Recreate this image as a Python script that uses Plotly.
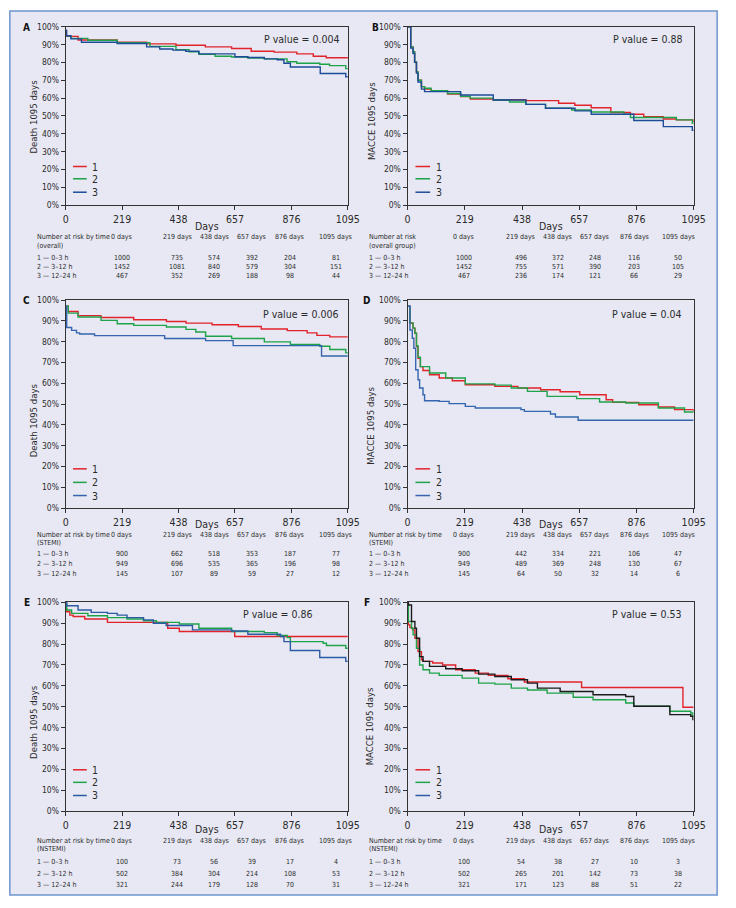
import subprocess
import plotly.graph_objects as go

W, H = 736, 908

# ---------------- data ----------------
tick_days = [0, 219, 438, 657, 876, 1095]
pct_ticks = list(range(0, 101, 10))
groups = ["1", "2", "3"]
row_labels = ["1 \u2014 0\u20133 h", "2 \u2014 3\u201312 h", "3 \u2014 12\u201324 h"]
col_headers = ["0 days", "219 days", "438 days", "657 days", "876 days", "1095 days"]

# Panel A  (Death, overall)
A1_d = [0, 3, 48, 200, 314, 428, 542, 644, 720, 809, 897, 961, 1011, 1095]
A1_s = [98, 94.6, 92.6, 91.3, 90.4, 89.6, 88.7, 87.8, 86.3, 85.8, 84.8, 83.5, 82.6, 82.3]
A2_d = [0, 3, 20, 86, 200, 327, 428, 479, 517, 580, 644, 707, 771, 859, 897, 986, 1024, 1087, 1095]
A2_s = [98, 95, 93.5, 92.4, 91, 89, 87.2, 86, 84.5, 83.5, 83, 82.5, 82, 80.4, 79.5, 79, 78.2, 76.5, 76.5]
A3_d = [0, 3, 20, 61, 200, 314, 365, 416, 466, 517, 657, 707, 771, 821, 847, 872, 988, 1087, 1095]
A3_s = [98, 95, 93.2, 91.3, 90.6, 88.7, 87.5, 86.9, 86.3, 84.8, 83.2, 82.8, 82, 81.5, 79.5, 77.4, 73.8, 72, 72]

# Panel B  (MACCE, overall)
B1_d = [0, 12, 21, 27, 34, 40, 53, 65, 90, 153, 203, 240, 328, 453, 578, 640, 703, 778, 853, 904, 979, 1029, 1095]
B1_s = [100, 88.7, 86, 80.3, 74.7, 70, 66.4, 65, 63.8, 62.3, 60.8, 59.5, 59.1, 58.6, 57.1, 56, 54.6, 51.9, 50.9, 49.6, 48.3, 47.8, 46.5]
B2_d = [0, 12, 21, 27, 34, 40, 53, 65, 90, 153, 203, 240, 328, 390, 453, 528, 628, 703, 828, 853, 1029, 1090, 1095]
B2_s = [100, 88.7, 86, 80.3, 74.7, 70, 66.4, 65.5, 64.2, 62.6, 61, 60, 58.9, 57.8, 56.5, 54.3, 53.3, 52.2, 50.9, 49.1, 47.8, 45.9, 45.9]
B3_d = [0, 12, 21, 27, 34, 40, 53, 65, 203, 328, 453, 528, 641, 703, 866, 979, 1090, 1095]
B3_s = [100, 88, 85, 80, 74, 69, 65, 63.6, 61.7, 58.9, 56.5, 54.3, 52.8, 50.9, 47.4, 44, 42, 42]

# Panel C  (Death, STEMI)
C1_d = [0, 10, 48, 137, 264, 391, 467, 568, 670, 759, 860, 937, 975, 1025, 1095]
C1_s = [97, 94.5, 92.5, 91.6, 90.5, 89.7, 88.9, 88.1, 87.3, 86.1, 85.3, 84.2, 83, 82.3, 82.3]
C2_d = [0, 10, 48, 137, 200, 264, 391, 467, 505, 543, 644, 771, 872, 986, 1025, 1087, 1095]
C2_s = [97, 93.7, 91.8, 90.2, 88.6, 87.8, 87, 85.9, 84.6, 82.6, 81.5, 79.9, 78.6, 77.8, 76.2, 74.6, 74.6]
C3_d = [0, 4, 23, 42, 54, 112, 384, 543, 650, 993, 1095]
C3_s = [97, 86.8, 85.4, 84.2, 83.7, 82.9, 81.5, 80.5, 78.1, 73.1, 73.1]

# Panel D  (MACCE, STEMI)
D1_d = [0, 9, 21, 28, 34, 40, 49, 59, 84, 121, 171, 221, 334, 422, 509, 584, 659, 760, 785, 885, 960, 1022, 1095]
D1_s = [97, 88.8, 86.4, 84, 77.6, 72, 68, 66.1, 64.1, 62.5, 61.2, 59.3, 58.5, 57.7, 56.9, 55.9, 54.5, 52.1, 50.8, 49.7, 48.6, 47.3, 46.5]
D2_d = [0, 9, 21, 28, 34, 40, 49, 84, 146, 221, 334, 397, 459, 534, 647, 735, 835, 960, 1060, 1095]
D2_s = [97, 89, 86.5, 84, 78, 72.5, 68, 64.9, 62.5, 59.7, 59.1, 57.7, 56.1, 53.7, 52.6, 51, 50.5, 48.1, 46.2, 46]
D3_d = [0, 9, 18, 24, 31, 40, 46, 59, 65, 121, 159, 221, 259, 434, 447, 547, 566, 653, 1095]
D3_s = [97, 85.6, 81.6, 76.8, 66.5, 61.7, 57.7, 54.5, 51.6, 51.3, 50.2, 48.9, 48.1, 47.3, 46.5, 45.2, 43.8, 42.2, 42.2]

# Panel E  (Death, NSTEMI)
E1_d = [0, 1, 4, 16, 29, 74, 162, 396, 441, 656, 1095]
E1_s = [100, 97, 95.5, 93.9, 93.2, 92, 90.4, 87.6, 86, 83.6, 83.6]
E2_d = [0, 4, 23, 86, 162, 238, 302, 352, 441, 517, 644, 771, 821, 860, 872, 999, 1012, 1087, 1095]
E2_s = [100, 96.3, 94.7, 93.6, 92.7, 92, 91.2, 90.4, 89.6, 87.6, 86, 85.5, 84.1, 83.1, 81.2, 80.4, 79.3, 78, 78]
E3_d = [0, 4, 48, 99, 162, 200, 238, 302, 340, 390, 492, 644, 707, 834, 847, 872, 986, 1087, 1095]
E3_s = [100, 98.4, 96.3, 95.2, 94.7, 93.9, 92.7, 91.6, 90, 88.9, 86.8, 86.3, 84.7, 83.6, 81.2, 76.9, 73.6, 71.7, 71.7]

# Panel F  (MACCE, NSTEMI)
F1_d = [0, 3, 9, 19, 28, 40, 53, 59, 96, 134, 184, 259, 309, 384, 447, 666, 1054, 1095]
F1_s = [100, 89.2, 87.9, 86.8, 82.8, 76.4, 72.5, 71.7, 70.9, 70, 67.7, 66.1, 65, 63.4, 61.8, 59.2, 49.7, 49.7]
F2_d = [0, 3, 15, 21, 34, 46, 59, 84, 121, 209, 272, 334, 397, 459, 534, 634, 710, 835, 866, 1004, 1084, 1092, 1095]
F2_s = [100, 90.8, 87.6, 84.4, 78, 70, 67.7, 66.1, 65, 63.7, 61.3, 60.8, 58.9, 58, 56.5, 54.5, 53.3, 51.8, 50.2, 47.8, 47, 45.4, 45.4]
F3_d = [0, 3, 15, 28, 34, 46, 59, 84, 146, 209, 272, 334, 397, 459, 497, 584, 710, 835, 866, 1004, 1084, 1092, 1095]
F3_s = [100, 98.7, 90.8, 87.6, 82.8, 74, 71.7, 69.3, 68.2, 67.2, 65.6, 64.5, 62.9, 61.3, 58.9, 57.3, 55.7, 54.9, 50.2, 46.2, 45.4, 43.8, 43.8]

p_values = {"A": "P value = 0.004", "B": "P value = 0.88", "C": "P value = 0.006",
            "D": "P value = 0.04", "E": "P value = 0.86", "F": "P value = 0.53"}
y_titles = {"A": "Death 1095 days", "B": "MACCE 1095 days", "C": "Death 1095 days",
            "D": "MACCE 1095 days", "E": "Death 1095 days", "F": "MACCE 1095 days"}
risk_heads = {"A": ("Number at risk by time", "(overall)"), "B": ("Number at risk", "(overall group)"),
              "C": ("Number at risk by time", "(STEMI)"), "D": ("Number at risk by time", "(STEMI)"),
              "E": ("Number at risk by time", "(NSTEMI)"), "F": ("Number at risk by time", "(NSTEMI)")}
risk_A = [[1000, 735, 574, 392, 204, 81], [1452, 1081, 840, 579, 304, 151], [467, 352, 269, 188, 98, 44]]
risk_B = [[1000, 496, 372, 248, 116, 50], [1452, 755, 571, 390, 203, 105], [467, 236, 174, 121, 66, 29]]
risk_C = [[900, 662, 518, 353, 187, 77], [949, 696, 535, 365, 196, 98], [145, 107, 89, 59, 27, 12]]
risk_D = [[900, 442, 334, 221, 106, 47], [949, 489, 369, 248, 130, 67], [145, 64, 50, 32, 14, 6]]
risk_E = [[100, 73, 56, 39, 17, 4], [502, 384, 304, 214, 108, 53], [321, 244, 179, 128, 70, 31]]
risk_F = [[100, 54, 38, 27, 10, 3], [502, 265, 201, 142, 73, 38], [321, 171, 123, 88, 51, 22]]

curves = {
    "A": [(A1_d, A1_s), (A2_d, A2_s), (A3_d, A3_s)],
    "B": [(B1_d, B1_s), (B2_d, B2_s), (B3_d, B3_s)],
    "C": [(C1_d, C1_s), (C2_d, C2_s), (C3_d, C3_s)],
    "D": [(D1_d, D1_s), (D2_d, D2_s), (D3_d, D3_s)],
    "E": [(E1_d, E1_s), (E2_d, E2_s), (E3_d, E3_s)],
    "F": [(F1_d, F1_s), (F2_d, F2_s), (F3_d, F3_s)],
}
risks = {"A": risk_A, "B": risk_B, "C": risk_C, "D": risk_D, "E": risk_E, "F": risk_F}

# ---------------- font choice (condensed if available) ----------------
try:
    fams = subprocess.run(["fc-list", ":", "family"], capture_output=True, text=True, timeout=10).stdout
except Exception:
    fams = ""
if "Liberation Sans Narrow" in fams:
    FONT = "Liberation Sans Narrow"
    SZ = dict(ytick=9.5, xtick=11.5, pval=12, days=12, ytitle=11, table=8.2, legend=11.5, letter=11)
elif "DejaVu Sans Condensed" in fams:
    FONT = "DejaVu Sans Condensed"
    SZ = dict(ytick=8.5, xtick=10.5, pval=10.5, days=10.5, ytitle=9.5, table=7, legend=10.5, letter=10)
else:
    FONT = "Liberation Sans, Arial, sans-serif"
    SZ = dict(ytick=9, xtick=10.5, pval=10.5, days=10.5, ytitle=9.5, table=7, legend=10.5, letter=10.5)

# ---------------- styling / layout ----------------
TXT = "#2b2b2b"
RED, GREEN = "#E3232B", "#1FA34A"
blue_of = {"A": "#1C4C98", "B": "#1C4C98", "C": "#3465AE", "D": "#3465AE", "E": "#2C5BA6", "F": "#2C5BA6"}
curve3_color = {"F": "#1a1a1a"}

def px(x):
    return x / W

def py(y):
    return 1 - y / H

col_x = {"L": (64, 352), "R": (413, 705)}
row_y = {0: (22, 202.3), 1: (298.3, 508.7), 2: (604, 815)}
panel_pos = {"A": ("L", 0), "B": ("R", 0), "C": ("L", 1), "D": ("R", 1), "E": ("L", 2), "F": ("R", 2)}

letter_xy = {"A": (24, 23), "B": (380, 23), "C": (24, 299), "D": (371, 299), "E": (24, 604), "F": (372, 604)}
ytitle_xy = {"A": (31.5, 113), "B": (376, 117), "C": (30.5, 420), "D": (375, 425), "E": (30.5, 725), "F": (375, 729)}
pval_xy = {"A": (305, 34), "B": (658, 34), "C": (304, 312), "D": (657, 312), "E": (280, 616), "F": (657, 616)}
days_y = {0: 223, 1: 525, 2: 833}
legend_ys = {0: [163.3, 175.7, 189.3], 1: [469, 482.7, 496], 2: [773.3, 786, 799.3]}
legend_x = {"L": (71.5, 85.5, 89), "R": (421, 436, 440)}
table_rows = {0: (234.8, 243.2, [256, 265, 273.7]),
              1: (536, 544, [555.5, 565.5, 575.5]),
              2: (845, 853.8, [866.7, 879, 890])}
table_cols = {"L": (32.3, [121, 178, 215.5, 254, 292.5, 339.5]),
              "R": (372, [470.5, 528.5, 566.5, 604, 644.5, 689.5])}

fig = go.Figure()
annotations = []
shapes = []

# outer panel background
shapes.append(dict(type="rect", xref="paper", yref="paper", x0=px(7), x1=px(729), y0=py(900), y1=py(6),
                   fillcolor="#E7E8F3", line=dict(color="#6E95D0", width=1.5), layer="below"))

for i, key in enumerate(["A", "B", "C", "D", "E", "F"]):
    col, row = panel_pos[key]
    n = i + 1
    xa = "x" if n == 1 else f"x{n}"
    ya = "y" if n == 1 else f"y{n}"
    x0, x1 = col_x[col]
    yt, yb = row_y[row]
    common = dict(showline=True, linecolor="#333333", linewidth=1, mirror=True, showgrid=False,
                  zeroline=False, ticks="outside", tickcolor="#333333", ticklen=4, tickwidth=1)
    fig.layout[f"xaxis{'' if n == 1 else n}"] = dict(
        domain=[px(x0), px(x1)], anchor=ya, range=[0, 1095], tickmode="array", tickvals=tick_days,
        ticktext=[str(t) for t in tick_days], tickfont=dict(family=FONT, size=SZ["xtick"], color=TXT), **common)
    fig.layout[f"yaxis{'' if n == 1 else n}"] = dict(
        domain=[py(yb), py(yt)], anchor=xa, range=[0, 100], tickmode="array", tickvals=pct_ticks,
        ticktext=[f"{t}%" for t in pct_ticks], tickfont=dict(family=FONT, size=SZ["ytick"], color=TXT), **common)

    cols = [RED, GREEN, curve3_color.get(key, blue_of[key])]
    for g, (d, s) in enumerate(curves[key]):
        fig.add_trace(go.Scatter(x=d, y=s, mode="lines", line=dict(color=cols[g], width=1.4, shape="hv"),
                                 xaxis=xa, yaxis=ya, showlegend=False, name=groups[g]))

    # legend keys (line samples + labels)
    lx0, lx1, ltx = legend_x[col]
    leg_cols = [RED, GREEN, blue_of[key]]
    for g, ly in enumerate(legend_ys[row]):
        shapes.append(dict(type="line", xref="paper", yref="paper", x0=px(lx0), x1=px(lx1), y0=py(ly), y1=py(ly),
                           line=dict(color=leg_cols[g], width=1.5)))
        annotations.append(dict(x=px(ltx), y=py(ly), xref="paper", yref="paper", text=groups[g], showarrow=False,
                                xanchor="left", yanchor="middle", font=dict(family=FONT, size=SZ["legend"], color=TXT)))

    lx, lyy = letter_xy[key]
    annotations.append(dict(x=px(lx), y=py(lyy), xref="paper", yref="paper", text=f"<b>{key}</b>", showarrow=False,
                            xanchor="center", yanchor="middle", font=dict(family=FONT, size=SZ["letter"], color="#111")))
    tx, ty = ytitle_xy[key]
    annotations.append(dict(x=px(tx), y=py(ty), xref="paper", yref="paper", text=y_titles[key], showarrow=False,
                            textangle=-90, xanchor="center", yanchor="middle",
                            font=dict(family=FONT, size=SZ["ytitle"], color=TXT)))
    pxv, pyv = pval_xy[key]
    annotations.append(dict(x=px(pxv), y=py(pyv), xref="paper", yref="paper", text=p_values[key], showarrow=False,
                            xanchor="center", yanchor="middle", font=dict(family=FONT, size=SZ["pval"], color=TXT)))
    annotations.append(dict(x=px((x0 + x1) / 2), y=py(days_y[row]), xref="paper", yref="paper", text="Days",
                            showarrow=False, xanchor="center", yanchor="middle",
                            font=dict(family=FONT, size=SZ["days"], color=TXT)))
    hy, sy, rys = table_rows[row]
    lab_x, cxs = table_cols[col]
    head, sub = risk_heads[key]
    tf = dict(family=FONT, size=SZ["table"], color=TXT)
    annotations.append(dict(x=px(lab_x), y=py(hy), xref="paper", yref="paper", text=head, showarrow=False,
                            xanchor="left", yanchor="middle", font=tf))
    annotations.append(dict(x=px(lab_x), y=py(sy), xref="paper", yref="paper", text=sub, showarrow=False,
                            xanchor="left", yanchor="middle", font=tf))
    for c, hdr in enumerate(col_headers):
        annotations.append(dict(x=px(cxs[c]), y=py(hy), xref="paper", yref="paper", text=hdr, showarrow=False,
                                xanchor="center", yanchor="middle", font=tf))
    for r, ry in enumerate(rys):
        annotations.append(dict(x=px(lab_x), y=py(ry), xref="paper", yref="paper", text=row_labels[r],
                                showarrow=False, xanchor="left", yanchor="middle", font=tf))
        for c, v in enumerate(risks[key][r]):
            annotations.append(dict(x=px(cxs[c]), y=py(ry), xref="paper", yref="paper", text=str(v),
                                    showarrow=False, xanchor="center", yanchor="middle", font=tf))

fig.update_layout(width=W, height=H, margin=dict(l=0, r=0, t=0, b=0), paper_bgcolor="white",
                  plot_bgcolor="white", showlegend=False, annotations=annotations, shapes=shapes,
                  font=dict(family=FONT, color=TXT))

fig.write_html("out.html", config={"displayModeBar": False},
               post_script="document.body.style.margin='0px';document.body.style.overflow='hidden';")
